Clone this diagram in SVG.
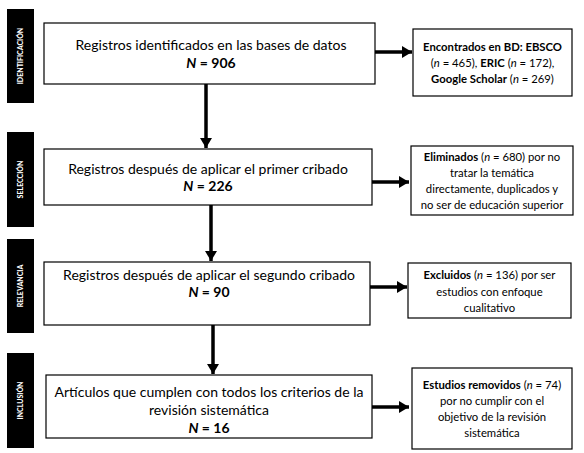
<svg xmlns="http://www.w3.org/2000/svg" width="584" height="453" viewBox="0 0 584 453">
<defs>
<style>
.bg{fill:#fff}
.box{fill:#fff;stroke:#000;stroke-width:1.2}
.bar{fill:#000}
.lab{fill:#fff;font-family:Lato,"Liberation Sans",sans-serif;font-weight:900;font-size:7px;text-anchor:middle}
.main{font-family:Lato,"Liberation Sans",sans-serif;font-size:14px;text-anchor:middle;fill:#000}
.side{font-family:Lato,"Liberation Sans",sans-serif;font-size:11.3px;text-anchor:middle;fill:#000}
.b{font-weight:bold}
.i{font-style:italic}
.conn{stroke:#000;stroke-width:3.5;fill:none}
</style>
<marker id="ah" markerUnits="userSpaceOnUse" markerWidth="12" markerHeight="12" refX="10" refY="6" orient="auto">
<path d="M0,0 L10,6 L0,12 Z" fill="#000"/>
</marker>
</defs>
<rect class="bg" x="0" y="0" width="584" height="453"/>

<g id="stage-identificacion">
<rect class="bar" x="7" y="9" width="27" height="94"/>
<text class="lab" transform="translate(23,56) rotate(-90)">IDENTIFICACIÓN</text>
</g>
<g id="stage-seleccion">
<rect class="bar" x="7" y="132" width="27" height="95"/>
<text class="lab" transform="translate(23,179.5) rotate(-90)">SELECCIÓN</text>
</g>
<g id="stage-relevancia">
<rect class="bar" x="7" y="239" width="27" height="94"/>
<text class="lab" transform="translate(23,286) rotate(-90)">RELEVANCIA</text>
</g>
<g id="stage-inclusion">
<rect class="bar" x="7" y="353" width="27" height="95"/>
<text class="lab" transform="translate(23,400.5) rotate(-90)">INCLUSIÓN</text>
</g>

<g id="connectors">
<line class="conn" x1="206" y1="84" x2="206" y2="148" marker-end="url(#ah)"/>
<line class="conn" x1="211" y1="205" x2="211" y2="261" marker-end="url(#ah)"/>
<line class="conn" x1="213" y1="325" x2="213" y2="374" marker-end="url(#ah)"/>
<line class="conn" x1="375" y1="52" x2="412" y2="52" marker-end="url(#ah)"/>
<line class="conn" x1="372" y1="182" x2="409" y2="182" marker-end="url(#ah)"/>
<line class="conn" x1="370" y1="287" x2="407" y2="287" marker-end="url(#ah)"/>
<line class="conn" x1="372" y1="407" x2="409" y2="407" marker-end="url(#ah)"/>
</g>

<g id="n1">
<rect class="box" x="44" y="23" width="331" height="61"/>
<text class="main" x="211" y="50">Registros identificados en las bases de datos</text>
<text class="main" x="211" y="68"><tspan class="b i">N</tspan><tspan class="b"> = 906</tspan></text>
</g>
<g id="n2">
<rect class="box" x="44" y="149" width="328" height="56"/>
<text class="main" x="208" y="174">Registros después de aplicar el primer cribado</text>
<text class="main" x="208" y="191"><tspan class="b i">N</tspan><tspan class="b"> = 226</tspan></text>
</g>
<g id="n3">
<rect class="box" x="44" y="262" width="326" height="63"/>
<text class="main" x="209" y="280">Registros después de aplicar el segundo cribado</text>
<text class="main" x="209" y="297"><tspan class="b i">N</tspan><tspan class="b"> = 90</tspan></text>
</g>
<g id="n4">
<rect class="box" x="46" y="375" width="326" height="63"/>
<text class="main" x="209" y="397">Artículos que cumplen con todos los criterios de la</text>
<text class="main" x="209" y="415">revisión sistemática</text>
<text class="main" x="209" y="433"><tspan class="b i">N</tspan><tspan class="b"> = 16</tspan></text>
</g>

<g id="s1">
<rect class="box" x="413" y="29" width="159" height="67"/>
<text class="side" x="492.5" y="51"><tspan class="b">Encontrados  en BD: EBSCO</tspan></text>
<text class="side" x="492.5" y="67">(<tspan class="i">n</tspan> = 465), <tspan class="b">ERIC</tspan> (<tspan class="i">n</tspan> = 172),</text>
<text class="side" x="492.5" y="83"><tspan class="b">Google Scholar</tspan> (<tspan class="i">n</tspan> = 269)</text>
</g>
<g id="s2">
<rect class="box" x="411" y="146" width="162" height="69"/>
<text class="side" x="492" y="161"><tspan class="b">Eliminados</tspan> (<tspan class="i">n</tspan> = 680) por no</text>
<text class="side" x="492" y="177">tratar la temática</text>
<text class="side" x="492" y="193">directamente, duplicados y</text>
<text class="side" x="492" y="209">no ser de educación superior</text>
</g>
<g id="s3">
<rect class="box" x="408" y="263" width="163" height="55"/>
<text class="side" x="489.5" y="279"><tspan class="b">Excluidos</tspan> (<tspan class="i">n</tspan> = 136) por ser</text>
<text class="side" x="489.5" y="296">estudios con enfoque</text>
<text class="side" x="489.5" y="312">cualitativo</text>
</g>
<g id="s4">
<rect class="box" x="412" y="368" width="160" height="81"/>
<text class="side" x="492" y="389"><tspan class="b">Estudios removidos</tspan> (<tspan class="i">n</tspan> = 74)</text>
<text class="side" x="492" y="405">por no cumplir con el</text>
<text class="side" x="492" y="421">objetivo de la revisión</text>
<text class="side" x="492" y="437">sistemática</text>
</g>
</svg>
